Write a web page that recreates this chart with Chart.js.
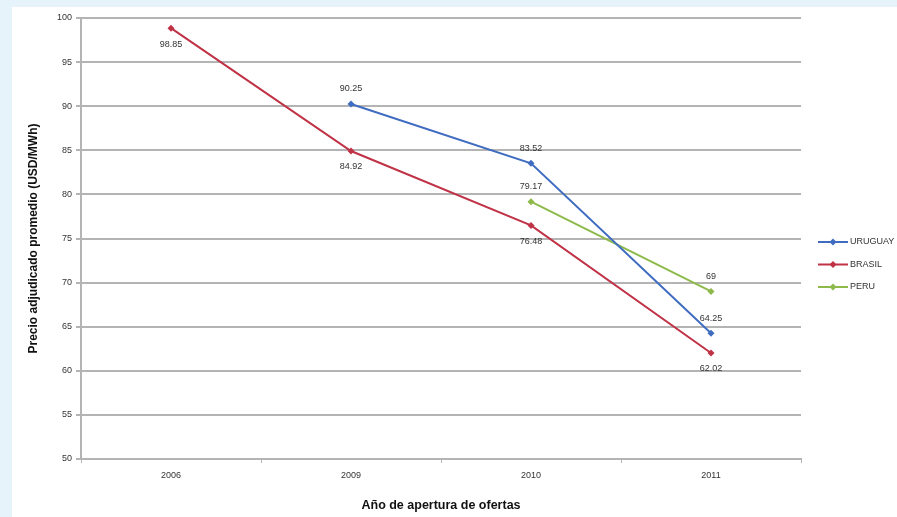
<!DOCTYPE html>
<html>
<head>
<meta charset="utf-8">
<script src="https://cdn.jsdelivr.net/npm/chart.js@4/dist/chart.umd.min.js"></script>
<style>
  html, body { margin: 0; padding: 0; background: #e7f3fa; }
  #wrap { position: absolute; left: 12px; top: 7px; width: 885px; height: 510px; background: #ffffff; }
  canvas { display: block; }
</style>
</head>
<body>
<div id="wrap"><canvas id="chart" width="885" height="510"></canvas></div>
<script>
// Años de apertura de ofertas
const years = ['2006', '2009', '2010', '2011'];
// Precio adjudicado promedio (USD/MWh) por país
const uruguay = [null, 90.25, 83.52, 64.25];
const brasil  = [98.85, 84.92, 76.48, 62.02];
const peru    = [null, null, 79.17, 69];
const seriesNames = ['URUGUAY', 'BRASIL', 'PERU'];
// Posición de cada etiqueta de valor respecto al punto
const labelSide = [
  [null, 'above', 'above', 'above'],
  ['below', 'below', 'below', 'below'],
  [null, null, 'above', 'above']
];
const yTicks = [50, 55, 60, 65, 70, 75, 80, 85, 90, 95, 100];

const colors = ['#3f6cc0', '#c03246', '#8dba4a'];
const FONT = 'Arial, "Liberation Sans", sans-serif';

// Etiquetas de valor junto a cada punto
const valueLabels = {
  id: 'valueLabels',
  afterDatasetsDraw(chart) {
    const ctx = chart.ctx;
    ctx.save();
    ctx.font = '9px ' + FONT;
    ctx.fillStyle = '#333333';
    ctx.textAlign = 'center';
    ctx.textBaseline = 'middle';
    chart.data.datasets.forEach((ds, di) => {
      const meta = chart.getDatasetMeta(di);
      meta.data.forEach((pt, i) => {
        const v = ds.data[i];
        if (v === null || v === undefined) return;
        const side = labelSide[di][i];
        const dy = side === 'above' ? -15 : 16;
        ctx.fillText(String(v), pt.x, pt.y + dy);
      });
    });
    ctx.restore();
  }
};

// Leyenda a la derecha del área de trazado
const sideLegend = {
  id: 'sideLegend',
  afterDraw(chart) {
    const ctx = chart.ctx;
    const x0 = 806, y0 = 235, gap = 22.5;
    ctx.save();
    ctx.font = '9px ' + FONT;
    ctx.textBaseline = 'middle';
    ctx.textAlign = 'left';
    chart.data.datasets.forEach((ds, di) => {
      const y = y0 + di * gap;
      ctx.strokeStyle = ds.borderColor;
      ctx.lineWidth = 2;
      ctx.beginPath();
      ctx.moveTo(x0, y);
      ctx.lineTo(x0 + 30, y);
      ctx.stroke();
      ctx.fillStyle = ds.borderColor;
      ctx.beginPath();
      ctx.moveTo(x0 + 15, y - 3.5);
      ctx.lineTo(x0 + 18.5, y);
      ctx.lineTo(x0 + 15, y + 3.5);
      ctx.lineTo(x0 + 11.5, y);
      ctx.closePath();
      ctx.fill();
      ctx.fillStyle = '#333333';
      ctx.fillText(ds.label, x0 + 32, y);
    });
    ctx.restore();
  }
};

const makeSet = (label, data, color) => ({
  label, data,
  borderColor: color,
  backgroundColor: color,
  borderWidth: 2,
  pointStyle: 'rectRot',
  pointRadius: 3.5,
  pointBorderWidth: 0,
  tension: 0,
  spanGaps: false
});

new Chart(document.getElementById('chart'), {
  type: 'line',
  data: {
    labels: years,
    datasets: [
      makeSet(seriesNames[0], uruguay, colors[0]),
      makeSet(seriesNames[1], brasil, colors[1]),
      makeSet(seriesNames[2], peru, colors[2])
    ]
  },
  options: {
    responsive: false,
    animation: false,
    layout: { padding: { left: 0, top: 11, right: 96, bottom: 0 } },
    plugins: {
      legend: { display: false },
      tooltip: { enabled: false }
    },
    scales: {
      x: {
        offset: true,
        grid: { offset: true, drawOnChartArea: false, color: '#b4b4b4', tickLength: 4, tickWidth: 1 },
        border: { color: '#b4b4b4', width: 2 },
        ticks: { color: '#333333', font: { family: FONT, size: 9 }, padding: 7 },
        title: {
          display: true,
          text: 'Año de apertura de ofertas',
          color: '#111111',
          font: { family: FONT, size: 12.5, weight: 'bold' },
          padding: { top: 6 }
        },
        afterFit(scale) { scale.height = 58; }
      },
      y: {
        min: 50,
        max: 100,
        afterBuildTicks(scale) { scale.ticks = yTicks.map(v => ({ value: v })); },
        grid: { color: '#b4b4b4', lineWidth: 2, tickLength: 5 },
        border: { color: '#b4b4b4', width: 2 },
        ticks: { color: '#333333', font: { family: FONT, size: 9 }, padding: 4 },
        title: {
          display: true,
          text: 'Precio adjudicado promedio (USD/MWh)',
          color: '#111111',
          font: { family: FONT, size: 12, weight: 'bold' },
          padding: { top: 14, bottom: 0 }
        },
        afterFit(scale) { scale.width = 69; }
      }
    }
  },
  plugins: [valueLabels, sideLegend]
});
</script>
</body>
</html>
